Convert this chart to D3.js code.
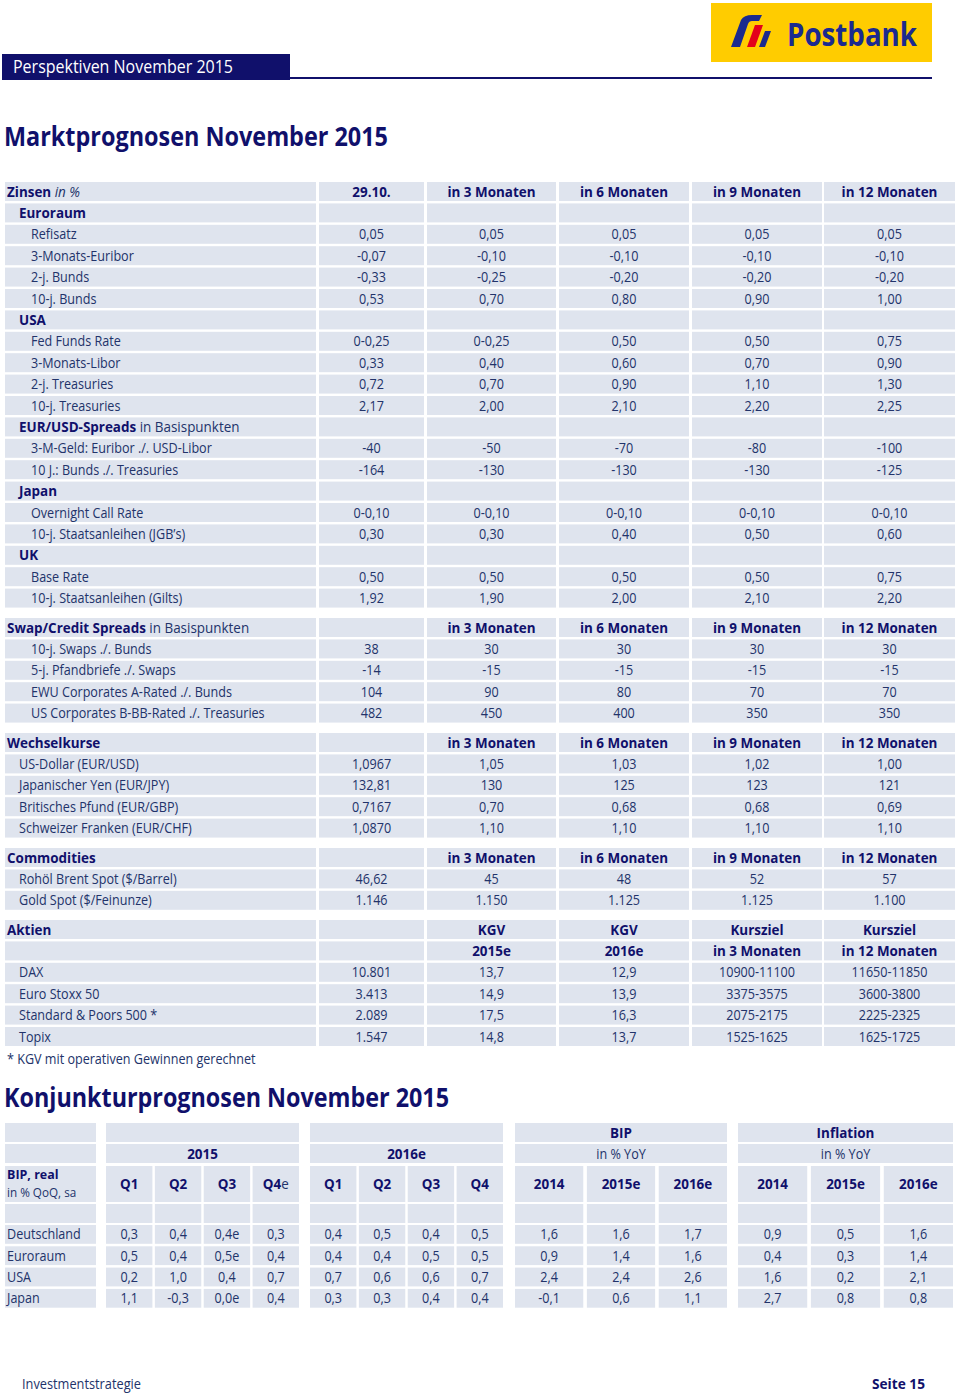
<!DOCTYPE html>
<html>
<head>
<meta charset="utf-8">
<script src="https://cdn.jsdelivr.net/npm/d3@7"></script>
<style>
  body { margin: 0; background: #fff; }
  svg { display: block; font-family: "Open Sans", "Noto Sans", sans-serif; }
</style>
</head>
<body>
<svg id="page"></svg>
<script>
// ---- data ----
const zinsenColumns = ["29.10.", "in 3 Monaten", "in 6 Monaten", "in 9 Monaten", "in 12 Monaten"];
const forecastColumns = ["", "in 3 Monaten", "in 6 Monaten", "in 9 Monaten", "in 12 Monaten"];

const zinsenRows = [
  ["Euroraum"],
  ["Refisatz", "0,05", "0,05", "0,05", "0,05", "0,05"],
  ["3-Monats-Euribor", "-0,07", "-0,10", "-0,10", "-0,10", "-0,10"],
  ["2-j. Bunds", "-0,33", "-0,25", "-0,20", "-0,20", "-0,20"],
  ["10-j. Bunds", "0,53", "0,70", "0,80", "0,90", "1,00"],
  ["USA"],
  ["Fed Funds Rate", "0-0,25", "0-0,25", "0,50", "0,50", "0,75"],
  ["3-Monats-Libor", "0,33", "0,40", "0,60", "0,70", "0,90"],
  ["2-j. Treasuries", "0,72", "0,70", "0,90", "1,10", "1,30"],
  ["10-j. Treasuries", "2,17", "2,00", "2,10", "2,20", "2,25"],
  ["EUR/USD-Spreads"],
  ["3-M-Geld: Euribor ./. USD-Libor", "-40", "-50", "-70", "-80", "-100"],
  ["10 J.: Bunds ./. Treasuries", "-164", "-130", "-130", "-130", "-125"],
  ["Japan"],
  ["Overnight Call Rate", "0-0,10", "0-0,10", "0-0,10", "0-0,10", "0-0,10"],
  ["10-j. Staatsanleihen (JGB’s)", "0,30", "0,30", "0,40", "0,50", "0,60"],
  ["UK"],
  ["Base Rate", "0,50", "0,50", "0,50", "0,50", "0,75"],
  ["10-j. Staatsanleihen (Gilts)", "1,92", "1,90", "2,00", "2,10", "2,20"]
];
const groupNotes = { "EUR/USD-Spreads": " in Basispunkten" };

const swapRows = [
  ["10-j. Swaps ./. Bunds", "38", "30", "30", "30", "30"],
  ["5-j. Pfandbriefe ./. Swaps", "-14", "-15", "-15", "-15", "-15"],
  ["EWU Corporates A-Rated ./. Bunds", "104", "90", "80", "70", "70"],
  ["US Corporates B-BB-Rated ./. Treasuries", "482", "450", "400", "350", "350"]
];

const fxRows = [
  ["US-Dollar (EUR/USD)", "1,0967", "1,05", "1,03", "1,02", "1,00"],
  ["Japanischer Yen (EUR/JPY)", "132,81", "130", "125", "123", "121"],
  ["Britisches Pfund (EUR/GBP)", "0,7167", "0,70", "0,68", "0,68", "0,69"],
  ["Schweizer Franken (EUR/CHF)", "1,0870", "1,10", "1,10", "1,10", "1,10"]
];

const commodityRows = [
  ["Rohöl Brent Spot ($/Barrel)", "46,62", "45", "48", "52", "57"],
  ["Gold Spot ($/Feinunze)", "1.146", "1.150", "1.125", "1.125", "1.100"]
];

const aktienColumns = ["", "KGV", "KGV", "Kursziel", "Kursziel"];
const aktienColumns2 = ["", "2015e", "2016e", "in 3 Monaten", "in 12 Monaten"];
const aktienRows = [
  ["DAX", "10.801", "13,7", "12,9", "10900-11100", "11650-11850"],
  ["Euro Stoxx 50", "3.413", "14,9", "13,9", "3375-3575", "3600-3800"],
  ["Standard & Poors 500 *", "2.089", "17,5", "16,3", "2075-2175", "2225-2325"],
  ["Topix", "1.547", "14,8", "13,7", "1525-1625", "1625-1725"]
];

const countries = ["Deutschland", "Euroraum", "USA", "Japan"];
const quarters2015 = ["Q1", "Q2", "Q3", "Q4e"];
const quarters2016 = ["Q1", "Q2", "Q3", "Q4"];
const yoyYears = ["2014", "2015e", "2016e"];
const bipQoQ2015 = [
  ["0,3", "0,4", "0,4e", "0,3"],
  ["0,5", "0,4", "0,5e", "0,4"],
  ["0,2", "1,0", "0,4", "0,7"],
  ["1,1", "-0,3", "0,0e", "0,4"]
];
const bipQoQ2016 = [
  ["0,4", "0,5", "0,4", "0,5"],
  ["0,4", "0,4", "0,5", "0,5"],
  ["0,7", "0,6", "0,6", "0,7"],
  ["0,3", "0,3", "0,4", "0,4"]
];
const bipYoY = [
  ["1,6", "1,6", "1,7"],
  ["0,9", "1,4", "1,6"],
  ["2,4", "2,4", "2,6"],
  ["-0,1", "0,6", "1,1"]
];
const inflationYoY = [
  ["0,9", "0,5", "1,6"],
  ["0,4", "0,3", "1,4"],
  ["1,6", "0,2", "2,1"],
  ["2,7", "0,8", "0,8"]
];

// ---- styles ----
const navy = "#10106b";
const textCol = "#22336a";
const cellFill = "#dfe4ee";
const fontSize = 14;
const squeezeReg = 0.9, squeezeBold = 0.96;   // narrower look of the original font
const pitch = 21.4, gap = 2.4;

const svg = d3.select("#page").attr("width", 960).attr("height", 1395);

// fit text to a target width (condensed headline font look)
function fitText(sel, w) {
  sel.attr("textLength", w).attr("lengthAdjust", "spacingAndGlyphs");
  return sel;
}

// body text, horizontally squeezed around its anchor point
function bodyText(g, x, y, bold, anchor, size) {
  return g.append("text")
    .attr("transform", `translate(${x},${y}) scale(${bold ? squeezeBold : squeezeReg},1)`)
    .attr("dy", "0.36em")
    .attr("text-anchor", anchor || "start")
    .attr("fill", bold ? navy : textCol)
    .style("font-size", (size || fontSize) + "px")
    .style("font-weight", bold ? "700" : "400");
}

// ---- page header ----
svg.append("rect").attr("x", 2).attr("y", 54).attr("width", 288).attr("height", 26).attr("fill", navy);
svg.append("rect").attr("x", 290).attr("y", 77).attr("width", 642).attr("height", 2).attr("fill", navy);
fitText(svg.append("text").attr("x", 13).attr("y", 73).attr("fill", "#fff")
  .style("font-size", "19px").text("Perspektiven November 2015"), 220);

// logo
const logo = svg.append("g");
logo.append("rect").attr("x", 711).attr("y", 3).attr("width", 221).attr("height", 59).attr("fill", "#ffcc00");
logo.append("path").attr("d", "M731,47 L741,20 Q744,15 752,15 L762,15 L759,21 L752,21 Q749,21 748,24 L740,47 Z").attr("fill", "#1b2a8f");
logo.append("path").attr("d", "M747,47 L755,25 L763,25 L755,47 Z").attr("fill", "#e3001b");
logo.append("path").attr("d", "M759,47 L765,31 L771,31 L765,47 Z").attr("fill", "#1b2a8f");
fitText(logo.append("text").attr("x", 787).attr("y", 46).attr("fill", "#1b2a8f")
  .style("font-size", "32px").style("font-weight", "700").text("Postbank"), 130);

// titles
fitText(svg.append("text").attr("x", 4).attr("y", 146).attr("fill", navy)
  .style("font-size", "26px").style("font-weight", "700").text("Marktprognosen November 2015"), 384);

// ---- main table ----
const colEdges = [[5, 316], [319, 424], [427, 556], [559, 689], [692, 822], [824, 955]];
const colX = d3.scaleOrdinal().domain(d3.range(6)).range(colEdges.map(e => e[0]));
const colW = d3.scaleOrdinal().domain(d3.range(6)).range(colEdges.map(e => e[1] - e[0]));
const indentX = d3.scaleOrdinal().domain([0, 1, 2]).range([7, 19, 31]);

function drawSection(sec) {
  const headRows = sec.headers.length;
  const n = headRows + sec.rows.length;
  const y = d3.scaleBand().domain(d3.range(n))
    .range([sec.top, sec.top + n * pitch - gap]).paddingInner(gap / pitch);
  const g = svg.append("g");

  d3.range(n).forEach(r => {
    d3.range(6).forEach(c => {
      g.append("rect").attr("x", colX(c)).attr("y", y(r))
        .attr("width", colW(c)).attr("height", y.bandwidth()).attr("fill", cellFill);
    });
  });

  const mid = r => y(r) + y.bandwidth() / 2;
  const cx = c => colX(c) + colW(c) / 2;

  // header rows
  sec.headers.forEach((hdr, r) => {
    if (r === 0) {
      const t = bodyText(g, indentX(0), mid(r), true);
      t.append("tspan").text(sec.title);
      if (sec.note) t.append("tspan").attr("fill", textCol).style("font-weight", "400")
        .style("font-style", sec.noteItalic ? "italic" : "normal").text(sec.note);
    }
    hdr.forEach((h, c) => bodyText(g, cx(c + 1), mid(r), true, "middle").text(h));
  });

  // body rows
  sec.rows.forEach((row, i) => {
    const r = i + headRows;
    if (row.length === 1) {
      const t = bodyText(g, indentX(1), mid(r), true);
      t.append("tspan").text(row[0]);
      if (groupNotes[row[0]]) t.append("tspan").attr("fill", textCol).style("font-weight", "400").text(groupNotes[row[0]]);
      return;
    }
    bodyText(g, indentX(sec.indent), mid(r), false).text(row[0]);
    row.slice(1).forEach((v, c) => bodyText(g, cx(c + 1), mid(r), false, "middle").text(v));
  });
}

drawSection({ title: "Zinsen", note: " in %", noteItalic: true, headers: [zinsenColumns], rows: zinsenRows, top: 182, indent: 2 });
drawSection({ title: "Swap/Credit Spreads", note: " in Basispunkten", headers: [forecastColumns], rows: swapRows, top: 618, indent: 2 });
drawSection({ title: "Wechselkurse", headers: [forecastColumns], rows: fxRows, top: 733, indent: 1 });
drawSection({ title: "Commodities", headers: [forecastColumns], rows: commodityRows, top: 848, indent: 1 });
drawSection({ title: "Aktien", headers: [aktienColumns, aktienColumns2], rows: aktienRows, top: 920, indent: 1 });

bodyText(svg, 7, 1059, false).text("* KGV mit operativen Gewinnen gerechnet");

// ---- Konjunktur table ----
fitText(svg.append("text").attr("x", 4).attr("y", 1107).attr("fill", navy)
  .style("font-size", "26px").style("font-weight", "700").text("Konjunkturprognosen November 2015"), 445);

const kg = svg.append("g");
const headTops = [1123, 1144, 1166, 1204];
const headHeights = [19, 19, 36, 19];
const dataY = d3.scaleBand().domain(d3.range(countries.length))
  .range([1225, 1225 + countries.length * 21.3 - 2.5]).paddingInner(2.5 / 21.3);

const blocks = [
  { top: "", sub: "2015", subBold: true, cols: quarters2015, data: bipQoQ2015, range: [106, 299] },
  { top: "", sub: "2016e", subBold: true, cols: quarters2016, data: bipQoQ2016, range: [310, 503] },
  { top: "BIP", sub: "in % YoY", subBold: false, cols: yoyYears, data: bipYoY, range: [515, 727] },
  { top: "Inflation", sub: "in % YoY", subBold: false, cols: yoyYears, data: inflationYoY, range: [738, 953] }
];

const cell = (x, y, w, h) => kg.append("rect").attr("x", x).attr("y", y)
  .attr("width", w).attr("height", h).attr("fill", cellFill);

// label column
headTops.forEach((t, i) => cell(5, t, 91, headHeights[i]));
countries.forEach((c, i) => {
  cell(5, dataY(i), 91, dataY.bandwidth());
  bodyText(kg, 7, dataY(i) + dataY.bandwidth() / 2, false).text(c);
});
bodyText(kg, 7, 1174.5, true, "start", 13).text("BIP, real");
bodyText(kg, 7, 1192.5, false, "start", 13).text("in % QoQ, sa");

blocks.forEach(b => {
  const x = d3.scaleBand().domain(d3.range(b.cols.length)).range(b.range).paddingInner(0.05);
  const bw = b.range[1] - b.range[0];
  const bx = b.range[0] + bw / 2;
  cell(b.range[0], headTops[0], bw, headHeights[0]);
  cell(b.range[0], headTops[1], bw, headHeights[1]);
  if (b.top) bodyText(kg, bx, headTops[0] + headHeights[0] / 2, true, "middle").text(b.top);
  bodyText(kg, bx, headTops[1] + headHeights[1] / 2, b.subBold, "middle").text(b.sub);
  b.cols.forEach((c, j) => {
    const mx = x(j) + x.bandwidth() / 2;
    cell(x(j), headTops[2], x.bandwidth(), headHeights[2]);
    cell(x(j), headTops[3], x.bandwidth(), headHeights[3]);
    const t = bodyText(kg, mx, headTops[2] + headHeights[2] / 2, true, "middle");
    if (/^Q\de$/.test(c)) {
      t.append("tspan").text(c.slice(0, 2));
      t.append("tspan").attr("fill", textCol).style("font-weight", "400").text("e");
    } else {
      t.text(c);
    }
    b.data.forEach((row, i) => {
      cell(x(j), dataY(i), x.bandwidth(), dataY.bandwidth());
      bodyText(kg, mx, dataY(i) + dataY.bandwidth() / 2, false, "middle").text(row[j]);
    });
  });
});

// ---- footer ----
fitText(svg.append("text").attr("x", 22).attr("y", 1389).attr("fill", textCol)
  .style("font-size", "14px").text("Investmentstrategie"), 119);
fitText(svg.append("text").attr("x", 872).attr("y", 1389).attr("fill", navy)
  .style("font-size", "14px").style("font-weight", "700").text("Seite 15"), 53);
</script>
</body>
</html>
